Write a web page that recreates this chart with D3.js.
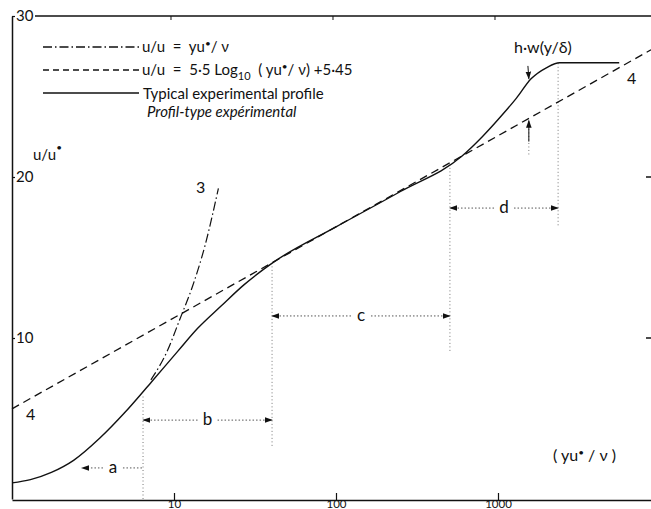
<!DOCTYPE html>
<html lang="en">
<head>
<meta charset="UTF-8">
<title>Velocity profile</title>
<style>
  body { margin: 0; background: #fff; }
  svg { display: block; }
  text { font-family: Lato, "DejaVu Sans", sans-serif; fill: #111; }
</style>
</head>
<body>
<script src="https://d3js.org/d3.v7.min.js"></script>
<script>
    // values
    const xTicks = [10, 100, 1000],
        yTicks = [10, 20, 30];

    // u/u* = yu*/v  (curve 3)
    const linX = [7.2, 9, 10.9, 13, 15.5, 18.8],
        linU = [7.4, 9.1, 11.2, 13.2, 15.7, 19.3];

    // log law (curve 4)
    const logX = [1, 8800],
        logU = [5.6, 27.9];

    // typical experimental profile
    const expX = [1, 1.3, 1.75, 2.4, 3.5, 5, 7.3, 10.6, 14, 19.6, 27, 35, 41, 100, 250, 600, 800, 1050, 1300, 1600, 2000, 2400, 5600],
        expU = [1.0, 1.2, 1.65, 2.4, 3.8, 5.4, 7.3, 9.2, 10.6, 12.0, 13.3, 14.2, 14.7, 16.9, 19.1, 21.3, 22.5, 23.8, 24.9, 26.1, 26.8, 27.1, 27.1];

    // regions a-d : label, level, from, to
    const spanLabels = ["a", "b", "c", "d"],
        spanU = [1.93, 4.9, 11.37, 18.07],
        spanFrom = [2.7, 6.44, 40.3, 505],
        spanTo = [6.44, 40.3, 505, 2350];

    // vertical dotted guides : x, from u, to u
    const guideX = [6.44, 40.3, 505, 2350, 1550],
        guideU0 = [0, 3.3, 9.2, 17, 21.4],
        guideU1 = [6.4, 14.6, 20.9, 27.1, 23.5];

    const W = 651, H = 509;
    const x = d3.scaleLog().domain([1, 8800]).range([12, 651]);
    const y = d3.scaleLinear().domain([0, 30]).range([499, 16]);
    const ink = "#111";

    const svg = d3.select("body").append("svg")
        .attr("width", W).attr("height", H);

    const defs = svg.append("defs");
    defs.append("marker")
        .attr("id", "arr")
        .attr("viewBox", "0 0 10 10")
        .attr("refX", 9).attr("refY", 5)
        .attr("markerWidth", 8).attr("markerHeight", 8)
        .attr("markerUnits", "userSpaceOnUse")
        .attr("orient", "auto-start-reverse")
        .append("path").attr("d", "M0,1.5 L10,5 L0,8.5 Z").attr("fill", ink);

    // bottom axis
    const xAxis = svg.append("g")
        .attr("transform", "translate(0," + (y(0) + 1) + ")")
        .call(d3.axisBottom(x).tickValues(xTicks).tickSize(-7).tickSizeOuter(0)
            .tickPadding(0).tickFormat(d3.format("d")));
    xAxis.select(".domain").attr("stroke", ink).attr("stroke-width", 1.3);
    xAxis.selectAll(".tick line").attr("stroke", ink).attr("stroke-width", 1.2);
    xAxis.selectAll("text").attr("font-size", 11.5).attr("font-family", "Lato, sans-serif").attr("fill", ink);

    // left axis
    const yAxis = svg.append("g")
        .attr("transform", "translate(12,0)")
        .call(d3.axisRight(y).tickValues(yTicks).tickSize(3).tickSizeOuter(0).tickPadding(1));
    yAxis.select(".domain").attr("stroke", ink).attr("stroke-width", 1.5);
    yAxis.selectAll(".tick line").attr("stroke", ink).attr("stroke-width", 1.2);
    yAxis.selectAll("text").attr("font-size", 15).attr("font-family", "Lato, sans-serif").attr("fill", ink);

    // top frame line with small ticks
    svg.append("line")
        .attr("x1", 35).attr("x2", 651).attr("y1", y(30)).attr("y2", y(30))
        .attr("stroke", ink).attr("stroke-width", 1.3);
    svg.selectAll(".ttick").data(xTicks).enter().append("line")
        .attr("x1", d => x(d) - 3).attr("x2", d => x(d) - 3)
        .attr("y1", y(30)).attr("y2", y(30) + 4)
        .attr("stroke", ink).attr("stroke-width", 1);

    // right ticks
    svg.selectAll(".rtick").data(yTicks.slice(0, 2)).enter().append("line")
        .attr("x1", 646).attr("x2", 651).attr("y1", d => y(d)).attr("y2", d => y(d))
        .attr("stroke", ink).attr("stroke-width", 1.5);

    const line = d3.line().x(d => x(d[0])).y(d => y(d[1])).curve(d3.curveMonotoneX);

    // dotted guides
    svg.selectAll(".guide").data(guideX).enter().append("line")
        .attr("x1", d => x(d)).attr("x2", d => x(d))
        .attr("y1", (d, i) => y(guideU0[i])).attr("y2", (d, i) => y(guideU1[i]))
        .attr("stroke", "#777").attr("stroke-width", 1).attr("stroke-dasharray", "1,2.5");

    // regions a-d
    spanLabels.forEach(function (lab, i) {
        const yy = y(spanU[i]);
        const x0 = x(spanFrom[i]), x1 = x(spanTo[i]);
        const xm = Math.sqrt(spanFrom[i] * spanTo[i]);
        const xc = lab === "a" ? x(4.2) : x(xm);
        svg.append("line")
            .attr("x1", xc - 10).attr("x2", x0).attr("y1", yy).attr("y2", yy)
            .attr("stroke", "#555").attr("stroke-width", 1).attr("stroke-dasharray", "1.5,2")
            .attr("marker-end", "url(#arr)");
        const right = svg.append("line")
            .attr("x1", xc + 10).attr("x2", x1).attr("y1", yy).attr("y2", yy)
            .attr("stroke", "#555").attr("stroke-width", 1).attr("stroke-dasharray", "1.5,2");
        if (i > 0) right.attr("marker-end", "url(#arr)");
        svg.append("text")
            .attr("x", xc).attr("y", yy + 5)
            .attr("text-anchor", "middle").attr("font-size", 17)
            .text(lab);
    });

    // curves
    svg.append("path")
        .datum(logX.map((d, i) => [d, logU[i]]))
        .attr("d", d3.line().x(d => x(d[0])).y(d => y(d[1])))
        .attr("fill", "none").attr("stroke", ink).attr("stroke-width", 1.3)
        .attr("stroke-dasharray", "8,5");

    svg.append("path")
        .datum(linX.map((d, i) => [d, linU[i]]))
        .attr("d", line)
        .attr("fill", "none").attr("stroke", ink).attr("stroke-width", 1.2)
        .attr("stroke-dasharray", "9,3,1.5,3");

    svg.append("path")
        .datum(expX.map((d, i) => [d, expU[i]]))
        .attr("d", line)
        .attr("fill", "none").attr("stroke", ink).attr("stroke-width", 1.4);

    // small arrows at the wake
    svg.append("line")
        .attr("x1", x(1550)).attr("x2", x(1550)).attr("y1", y(22.2)).attr("y2", y(23.5))
        .attr("stroke", ink).attr("stroke-width", 1).attr("marker-end", "url(#arr)");
    svg.append("line")
        .attr("x1", x(1530)).attr("x2", x(1550)).attr("y1", y(26.9)).attr("y2", y(26.1))
        .attr("stroke", ink).attr("stroke-width", 1).attr("marker-end", "url(#arr)");

    // curve labels
    svg.append("text").attr("x", 196).attr("y", 193).attr("font-size", 16).text("3");
    svg.append("text").attr("x", 26).attr("y", 420).attr("font-size", 16).text("4");
    svg.append("text").attr("x", 627).attr("y", 84).attr("font-size", 16).text("4");
    svg.append("text").attr("x", 514).attr("y", 53).attr("font-size", 16).text("h·w(y/δ)");

    // axis titles
    const yt = svg.append("text").attr("x", 33).attr("y", 160).attr("font-size", 15);
    yt.append("tspan").text("u/u");
    yt.append("tspan").attr("dy", -9).attr("font-size", 10).text("•");

    const xt = svg.append("text").attr("x", 553).attr("y", 461).attr("font-size", 16)
        .attr("xml:space", "preserve");
    xt.append("tspan").text("( yu");
    xt.append("tspan").attr("dy", -5).attr("font-size", 10).text("•");
    xt.append("tspan").attr("dy", 5).text(" / ν )");

    // legend
    const legY = [47, 70, 93];
    const legDash = ["9,3,1.5,3", "6,4", null];
    legY.forEach(function (ly, i) {
        const l = svg.append("line")
            .attr("x1", 43).attr("x2", 139).attr("y1", ly).attr("y2", ly)
            .attr("stroke", ink).attr("stroke-width", 1.3);
        if (legDash[i]) l.attr("stroke-dasharray", legDash[i]);
    });
    const t1 = svg.append("text").attr("x", 142).attr("y", 52).attr("font-size", 15)
        .attr("xml:space", "preserve");
    t1.append("tspan").text("u/u  =  yu");
    t1.append("tspan").attr("dy", -5).attr("font-size", 10).text("•");
    t1.append("tspan").attr("dy", 5).text("/ ν");

    const t2 = svg.append("text").attr("x", 142).attr("y", 75).attr("font-size", 15)
        .attr("xml:space", "preserve");
    t2.append("tspan").text("u/u  =  5·5 Log");
    t2.append("tspan").attr("dy", 5).attr("font-size", 11).text("10");
    t2.append("tspan").attr("dy", -5).text("  ( yu");
    t2.append("tspan").attr("dy", -5).attr("font-size", 10).text("•");
    t2.append("tspan").attr("dy", 5).text("/ ν) +5·45");

    svg.append("text").attr("x", 143).attr("y", 99).attr("font-size", 15)
        .text("Typical experimental profile");
    svg.append("text").attr("x", 147).attr("y", 117).attr("font-size", 15)
        .attr("font-style", "italic").text("Profil-type expérimental");
</script>
</body>
</html>
